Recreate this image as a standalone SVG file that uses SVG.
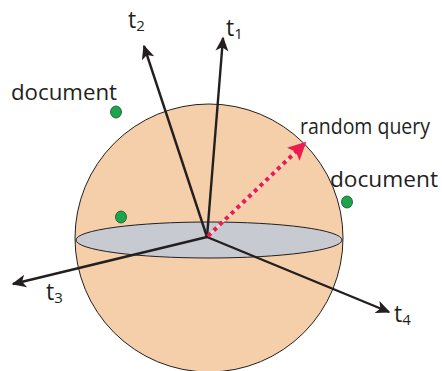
<svg xmlns="http://www.w3.org/2000/svg" width="442" height="371" viewBox="0 0 442 371">
<defs>
<marker id="ah" viewBox="0 0 10 10" refX="9" refY="5" markerWidth="6.5" markerHeight="6" markerUnits="strokeWidth" orient="auto">
<path d="M0,0.5 L10,5 L0,9.5 L2.5,5 z" fill="#231f20"/>
</marker>
<marker id="rh" viewBox="0 0 10 10" refX="9" refY="5" markerWidth="4.5" markerHeight="4.5" markerUnits="strokeWidth" orient="auto">
<path d="M0,0 L10,5 L0,10 L2,5 z" fill="#ec1c4f"/>
</marker>
<style>
.lbl{font-family:"Myriad Pro","Open Sans","Liberation Sans",sans-serif;fill:#231f20}
.ax{stroke:#231f20;stroke-width:2.4;fill:none}
.dot{fill:#1aa64a;stroke:#1f4a2a;stroke-width:0.8}
</style>
</defs>
<g id="sphere">
<circle cx="209" cy="238" r="134" fill="#f5cfa9" stroke="#231f20" stroke-width="1"/>
<ellipse cx="209" cy="240" rx="133" ry="18" fill="#c8cad1" stroke="#231f20" stroke-width="1"/>
</g>
<g id="connectors">
<line class="ax" x1="207" y1="237" x2="144" y2="46" marker-end="url(#ah)"/>
<line class="ax" x1="207" y1="237" x2="223" y2="38" marker-end="url(#ah)"/>
<line class="ax" x1="207" y1="237" x2="13" y2="284" marker-end="url(#ah)"/>
<line class="ax" x1="207" y1="237" x2="389" y2="312" marker-end="url(#ah)"/>
<line x1="208" y1="236" x2="300" y2="148" stroke="#fbe3e6" stroke-width="1.5"/>
<line x1="208" y1="236" x2="305" y2="143" stroke="#ec1c4f" stroke-width="4" stroke-dasharray="4 4" marker-end="url(#rh)"/>
</g>
<g id="t1"><text class="lbl" x="226" y="36" font-size="23">t<tspan font-size="15" dy="3">1</tspan></text></g>
<g id="t2"><text class="lbl" x="128" y="28" font-size="23">t<tspan font-size="15" dy="3">2</tspan></text></g>
<g id="t3"><text class="lbl" x="46" y="300" font-size="23">t<tspan font-size="15" dy="3">3</tspan></text></g>
<g id="t4"><text class="lbl" x="394" y="322" font-size="23">t<tspan font-size="15" dy="3">4</tspan></text></g>
<g id="doc1"><text class="lbl" x="11" y="100" font-size="21" textLength="106" lengthAdjust="spacingAndGlyphs">document</text><ellipse class="dot" cx="116" cy="112" rx="5.5" ry="6"/></g>
<g id="doc2"><ellipse class="dot" cx="121" cy="217" rx="5.5" ry="6"/></g>
<g id="doc3"><text class="lbl" x="330" y="187" font-size="21" textLength="108" lengthAdjust="spacingAndGlyphs">document</text><ellipse class="dot" cx="347" cy="202" rx="5.5" ry="6"/></g>
<g id="query"><text class="lbl" x="300" y="134" font-size="21" textLength="130" lengthAdjust="spacingAndGlyphs">random query</text></g>
</svg>
